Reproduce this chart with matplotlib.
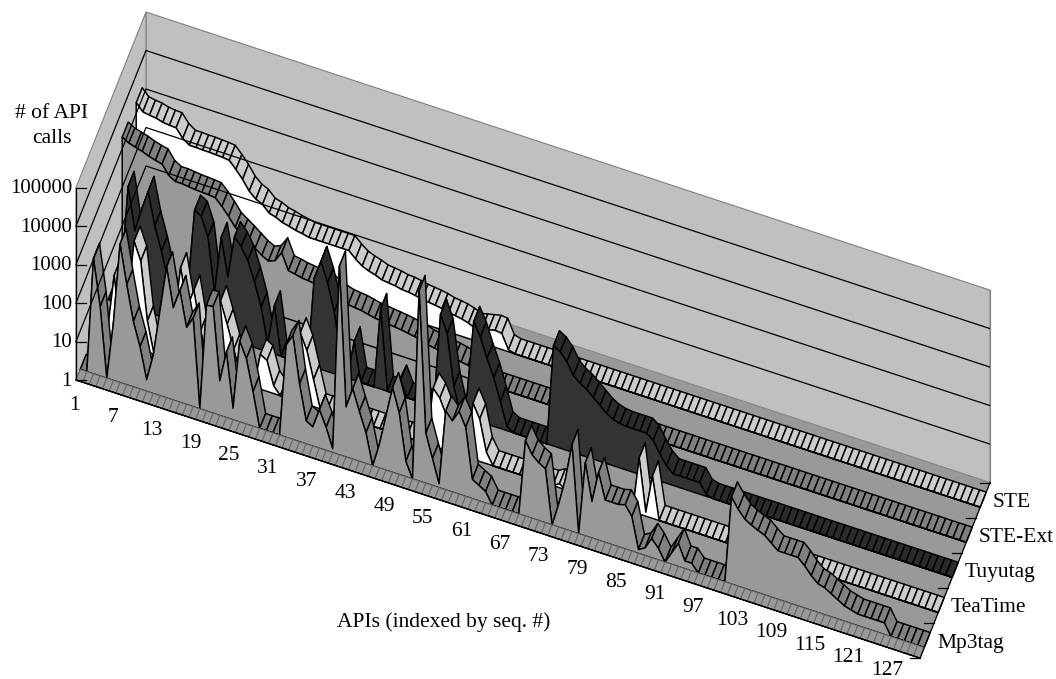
import numpy as np
import matplotlib
matplotlib.use('Agg')
import matplotlib.pyplot as plt
from matplotlib.patches import Polygon

plt.rcParams['font.family'] = ['Liberation Serif', 'DejaVu Serif']

# values are log10(# of API calls)
ste = [3.28, 3.1, 3.07, 3.05, 3.0, 2.98, 2.97, 2.75, 2.63, 2.63,
       2.62, 2.62, 2.61, 2.6, 2.58, 2.4, 2.2, 1.95, 1.8, 1.72,
       1.55, 1.5, 1.42, 1.38, 1.33, 1.3, 1.26, 1.26, 1.26, 1.26,
       1.26, 1.26, 1.26, 1.1, .97, .9, .85, .78, .76, .74,
       .7, .69, .66, .62, .6, .58, .55, .5, .48, .45,
       .4, .32, .36, .4, .44, .42, .05, 0, 0, 0,
       0, 0, 0, 0, 0, 0, 0, 0, 0, 0,
       0, 0, 0, 0, 0, 0, 0, 0, 0, 0,
       0, 0, 0, 0, 0, 0, 0, 0, 0, 0,
       0, 0, 0, 0, 0, 0, 0, 0, 0, 0,
       0, 0, 0, 0, 0, 0, 0, 0, 0, 0,
       0, 0, 0, 0, 0, 0, 0, 0, 0, 0,
       0, 0, 0, 0, 0, 0, 0, 0]
ste_ext = [3.3, 3.2, 3.15, 3.1, 3.03, 2.98, 2.94, 2.7, 2.6, 2.6,
           2.58, 2.56, 2.55, 2.54, 2.52, 2.35, 2.15, 1.92, 1.8, 1.68,
           1.55, 1.42, 1.33, 1.4, 1.66, 1.25, 1.22, 1.18, 1.16, 1.14,
           1.12, 1.1, 1.0, .93, .88, .86, .84, .8, .76, .74,
           .72, .7, .68, .65, .62, .58, .52, .49, .46, .42,
           .4, .36, .33, .3, .3, .25, 0, 0, 0, 0,
           0, 0, 0, 0, 0, 0, 0, 0, 0, 0,
           0, 0, 0, 0, 0, 0, 0, 0, 0, 0,
           0, 0, 0, 0, 0, 0, 0, 0, 0, 0,
           0, 0, 0, 0, 0, 0, 0, 0, 0, 0,
           0, 0, 0, 0, 0, 0, 0, 0, 0, 0,
           0, 0, 0, 0, 0, 0, 0, 0, 0, 0,
           0, 0, 0, 0, 0, 0, 0, 0]
tuyutag = [0, 0, .8, 3.1, 2.0, 2.6, 3.14, 2.3, 1.7, 1.0,
           .3, .3, 1.0, 3.05, 2.95, 2.47, 1.1, 2.57, 1.6, 2.7,
           2.5, 2.2, 1.7, 1.1, .2, 1.25, 0, 0, 0, 0,
           0, 2.3, 2.8, 2.3, 1.6, .5, 0, 1.0, 0, 0,
           0, 2.09, 0, 0, .4, 0, 0, 0, 0, 0,
           2.45, 2.0, .7, 0, .6, 2.55, 2.2, 1.7, 1.26, .7,
           .1, 0, 0, 0, 0, 0, 0, 2.6, 2.5, 2.3,
           2.0, 1.85, 1.75, 1.6, 1.45, 1.3, 1.2, 1.15, 1.13, 1.13,
           1.13, 1.13, 1.0, .7, .45, .3, .3, .3, .3, .3,
           .05, 0, 0, 0, 0, 0, 0, 0, 0, 0,
           0, 0, 0, 0, 0, 0, 0, 0, 0, 0,
           0, 0, 0, 0, 0, 0, 0, 0, 0, 0,
           0, 0, 0, 0, 0, 0, 0, 0]
teatime = [0, 0, .2, 1.7, .3, 1.0, 2.76, 2.3, .8, 0,
           0, 0, 1.0, 2.47, 1.5, 2.0, 1.0, .3, .5, 1.95,
           1.4, .8, .2, 0, 0, .9, .8, .2, 0, 0,
           .6, 1.8, 1.4, .7, 0, 0, 0, 0, 0, 0,
           0, 0, 0, 0, 0, 0, 0, 0, 0, 0,
           0, 1.5, 1.3, .9, 0, 0, 0, 1.45, 1.1, .3,
           0, 0, 0, 0, 0, 0, 0, 0, 0, 0,
           .1, 0, 0, 0, 0, 0, 0, 0, 0, 0,
           0, 0, 1.45, .1, 1.1, 0, 0, 0, 0, 0,
           0, 0, 0, 0, 0, 0, 0, 0, 0, 0,
           0, 0, 0, 0, 0, 0, 0, 0, 0, 0,
           0, 0, 0, 0, 0, 0, 0, 0, 0, 0,
           0, 0, 0, 0, 0, 0, 0, 0]
mp3tag = [0, 0, 3.0, 1.8, 0, 1.5, 3.6, 2.6, 1.7, 1.1,
          .3, 1.0, 2.2, 3.4, 2.4, 2.9, 2.0, 2.3, 0, 2.75,
          2.77, .9, 1.7, .3, 2.1, 1.7, .9, 0, 0, 0,
          0, 2.4, 2.7, 1.5, .6, .5, 1.0, .6, .1, 4.9,
          1.3, 1.83, 1.3, .8, 0, .6, 1.4, 2.2, 1.6, .4,
          0, 4.95, 1.3, .7, .1, 2.05, 1.85, 2.15, 1.8, .5,
          .4, .3, 0, 0, 0, 0, 0, 1.96, 1.65, 1.5,
          1.4, 0, .6, 1.3, 2.26, 0, 1.9, .95, 1.76, 1.1,
          1.1, 1.1, 1.15, .9, .1, .2, .5, .3, 0, .3,
          .6, .2, .2, 0, 0, 0, 0, 0, 2.26, 2.0,
          1.8, 1.7, 1.62, 1.55, 1.4, 1.26, 1.26, 1.26, 1.26, 1.1,
          .9, .75, .7, .6, .5, .4, .35, .3, .3, .3,
          .3, .3, 0, 0, 0, 0, 0, 0]
floor_band = [0] * 128

series_names = ['Mp3tag', 'TeaTime', 'Tuyutag', 'STE-Ext', 'STE']
value_ticks = ['1', '10', '100', '1000', '10000', '100000']
api_ticks = list(range(1, 128, 6))

# (ribbon colour, front face colour) per series
styles = {'Mp3tag': ('#808080', '#999999'),
          'TeaTime': ('#cccccc', '#ffffff'),
          'Tuyutag': ('#2b2b2b', '#333333'),
          'STE-Ext': ('#808080', '#999999'),
          'STE': ('#cccccc', '#ffffff')}
series_data = {'Mp3tag': mp3tag, 'TeaTime': teatime, 'Tuyutag': tuyutag,
               'STE-Ext': ste_ext, 'STE': ste}
font = 15.5


def proj(i, d, z):
    # i = api number, d = depth in series units, z = decades
    i, d, z = np.asarray(i, float), np.asarray(d, float), np.asarray(z, float)
    return 76 + 6.646 * (i - 1) + 14 * d, 380 + 2.19 * (i - 1) - 35.1 * d - 38.5 * z


def poly(pts, **kw):
    xy = [proj(*p) for p in pts]
    ax.add_patch(Polygon(xy, closed=True, **kw))


def slab(vals, d0, d1, ribbon, front, lw=1.05, edge='black'):
    n = len(vals)
    idx = np.arange(1, n + 1)
    # front face goes last so it hides back-facing ribbon pieces
    for k in range(n - 1):
        poly([(idx[k], d0, vals[k]), (idx[k + 1], d0, vals[k + 1]),
              (idx[k + 1], d1, vals[k + 1]), (idx[k], d1, vals[k])],
             facecolor=ribbon, edgecolor=edge, lw=lw, joinstyle='round')
    pts = [(1, d0, 0)] + [(i, d0, v) for i, v in zip(idx, vals)] + [(n, d0, 0)]
    poly(pts, facecolor=front, edgecolor='black', lw=lw, joinstyle='round')


fig = plt.figure(figsize=(10.56, 6.79), dpi=100)
ax = fig.add_axes([0, 0, 1, 1])
ax.set_xlim(0, 1056)
ax.set_ylim(679, 0)
ax.axis('off')

last = 128
# walls and floor
poly([(1, 5, 0), (last, 5, 0), (last, 5, 5), (1, 5, 5)], facecolor='#c0c0c0', edgecolor='#808080', lw=0.8)
poly([(1, 0, 0), (1, 5, 0), (1, 5, 5), (1, 0, 5)], facecolor='#c0c0c0', edgecolor='#808080', lw=0.8)
poly([(1, 0, 0), (last, 0, 0), (last, 5, 0), (1, 5, 0)], facecolor='#999999', edgecolor='#808080', lw=0.8, ls=(0, (1, 1)))

for k in range(1, 5):
    xs, ys = proj([1, 1, last], [0, 5, 5], [k, k, k])
    ax.plot(xs, ys, color='black', lw=0.9)

xs, ys = proj([1, 1], [0, 0], [0, 5])
ax.plot(xs, ys, color='black', lw=0.9)
xs, ys = proj([last, last], [5, 5], [0, 5])
ax.plot(xs, ys, color='#808080', lw=0.8)

# value axis ticks point into the wall
for k in range(6):
    x, y = proj(1, 0, k)
    ax.plot([x, x + 10], [y, y], color='black', lw=0.9)

# series, back to front
for pos in range(4, -1, -1):
    name = series_names[pos]
    slab(series_data[name], pos + 0.3, pos + 0.73, styles[name][0], styles[name][1])

# front band on the floor edge
slab(floor_band, 0, 0.3, '#999999', '#999999', lw=0.7, edge='#666666')
xs, ys = proj([1, last], [0, 0], [0, 0])
ax.plot(xs, ys, color='black', lw=1.0)
xs, ys = proj([last, last], [0, 5], [0, 0])
ax.plot(xs, ys, color='black', lw=0.9)

# value labels
for k, lab in enumerate(value_ticks):
    x, y = proj(1, 0, k)
    ax.text(x - 4, y + 1.2, lab, ha='right', va='center', fontsize=15)
ax.text(52, 126, '# of API\ncalls', ha='center', va='center', fontsize=font, linespacing=1.42)

# api axis, the labels drift slightly off the axis towards the far end
for i in api_ticks:
    x, y = proj(i, 0, 0)
    ax.text(x - 1.7 - 0.196 * (i - 1), y + 25.3 - 0.085 * (i - 1), str(i),
            ha='center', va='center', fontsize=font)
ax.text(444, 622, 'APIs (indexed by seq. #)', ha='center', va='center', fontsize=font)

# series axis
for k in range(6):
    x, y = proj(last, k, 0)
    ax.plot([x - 10, x], [y, y], color='black', lw=0.9)
for k, name in enumerate(series_names):
    x, y = proj(last, k + 0.5, 0)
    ax.text(x + 10, y + 2.5, name, ha='left', va='center', fontsize=font)

fig.savefig('out.png', dpi=100)
